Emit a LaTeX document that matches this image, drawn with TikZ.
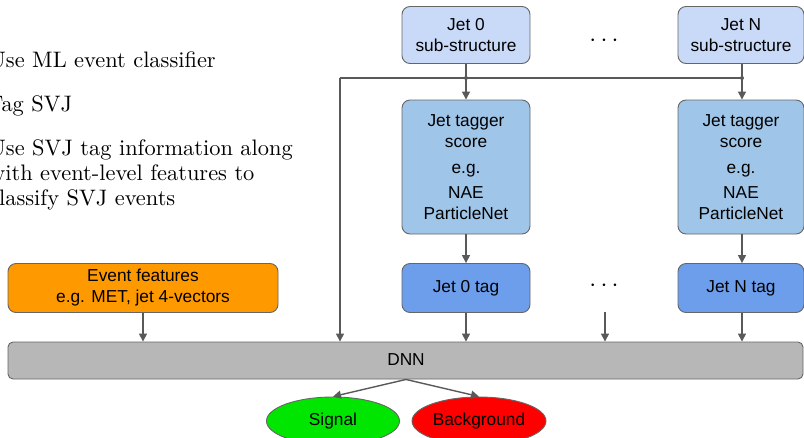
\documentclass[tikz,border=0pt]{standalone}
\usepackage{fontspec}
\newfontfamily\arialf{Liberation Sans}
\newfontfamily\lmten{lmroman10-regular.otf}
\usetikzlibrary{arrows.meta,shapes.geometric}
\definecolor{lblue}{HTML}{C9DAF8}
\definecolor{mblue}{HTML}{9FC5E8}
\definecolor{dblue}{HTML}{6D9EEB}
\definecolor{orng}{HTML}{FF9900}
\definecolor{dnngray}{HTML}{B7B7B7}
\definecolor{edge}{HTML}{666666}
\definecolor{arr}{HTML}{595959}
\definecolor{sigg}{HTML}{00E600}
\definecolor{bgr}{HTML}{FF0000}
\tikzset{
  box/.style={draw=edge, line width=0.9pt, rounded corners=8pt, align=center, inner sep=0pt,
    font=\arialf\fontsize{17.3}{21}\selectfont},
  ell/.style={ellipse, draw=edge, line width=0.9pt, inner sep=0pt, font=\arialf\fontsize{17.3}{21}\selectfont},
  conn/.style={draw=arr, line width=1.4pt, -{Triangle[length=8pt,width=8pt]}},
  plain/.style={draw=arr, line width=1.4pt},
  dotsn/.style={font=\fontsize{24}{24}\selectfont},
  txt/.style={anchor=base west, inner sep=0pt, font=\lmten\fontsize{22.4}{25}\selectfont, align=left}
}
\begin{document}
\begin{tikzpicture}[x=1pt,y=-1pt]
\useasboundingbox (0,0) rectangle (804,437);
\clip (0,0) rectangle (804,437);
% left text
\node[txt] (t1) at (-11,67) {Use ML event classifier};
\node[txt] (t2) at (-13,111) {Tag SVJ};
\node[txt] (t3) at (-11,155) {Use SVJ tag information along};
\node[txt] (t4) at (-11,180) {with event-level features to};
\node[txt] (t5) at (-11,205) {classify SVJ events};
% top boxes
\node[box, fill=lblue, minimum width=128pt, minimum height=57pt] (j0s) at (466,35) {Jet 0\\sub-structure};
\node[box, fill=lblue, minimum width=126pt, minimum height=57pt] (jNs) at (741,35) {Jet N\\sub-structure};
\node[dotsn] (d1) at (604,41) {$\cdots$};
% tagger boxes
\node[box, fill=mblue, minimum width=128pt, minimum height=134pt] (tg0) at (466,167) {Jet tagger\\score\\[5pt]e.g.\\[4pt]NAE\\ParticleNet};
\node[box, fill=mblue, minimum width=126pt, minimum height=134pt] (tgN) at (741,167) {Jet tagger\\score\\[5pt]e.g.\\[4pt]NAE\\ParticleNet};
% tag boxes
\node[box, fill=dblue, minimum width=128pt, minimum height=49pt] (tag0) at (466,288) {Jet 0 tag};
\node[box, fill=dblue, minimum width=126pt, minimum height=49pt] (tagN) at (741,288) {Jet N tag};
\node[dotsn] (d2) at (604,286) {$\cdots$};
\node[box, fill=orng, minimum width=270pt, minimum height=49pt] (ev) at (143,288) {Event features\\e.g. MET, jet 4-vectors};
% DNN
\node[box, rounded corners=5pt, fill=dnngray, minimum width=795pt, minimum height=37pt] (dnn) at (405.5,360.5) {};
\node[font=\arialf\fontsize{17.3}{21}\selectfont] (dnnl) at (406,360) {DNN};
% outputs
\node[ell, fill=sigg, minimum width=133pt, minimum height=48pt] (sig) at (333,421) {Signal};
\node[ell, fill=bgr, minimum width=134pt, minimum height=48pt] (bg) at (479,421) {Background};
% connectors
\coordinate (c0) at (466,78);
\coordinate (cN) at (742,78);
\coordinate (cL) at (340,78);
\coordinate (cd) at (605,312);
\draw[plain] (cL) -- (cN);
\draw[conn] (cL) -- (cL |- dnn.north);
\draw[conn] (j0s.south) -- (tg0.north);
\draw[conn] (cN |- jNs.south) -- (cN |- tgN.north);
\fill[arr] (c0) circle (2pt);
\fill[arr] (cN) circle (2pt);
\draw[conn] (tg0.south) -- (tag0.north);
\draw[conn] (cN |- tgN.south) -- (cN |- tagN.north);
\draw[conn] (tag0.south) -- (tag0.south |- dnn.north);
\draw[conn] (cN |- tagN.south) -- (cN |- dnn.north);
\draw[conn] (cd) -- (cd |- dnn.north);
\draw[conn] (ev.south) -- (ev.south |- dnn.north);
\draw[conn] (dnnl |- dnn.south) -- (sig.north);
\draw[conn] (dnnl |- dnn.south) -- (bg.north);
\end{tikzpicture}
\end{document}
